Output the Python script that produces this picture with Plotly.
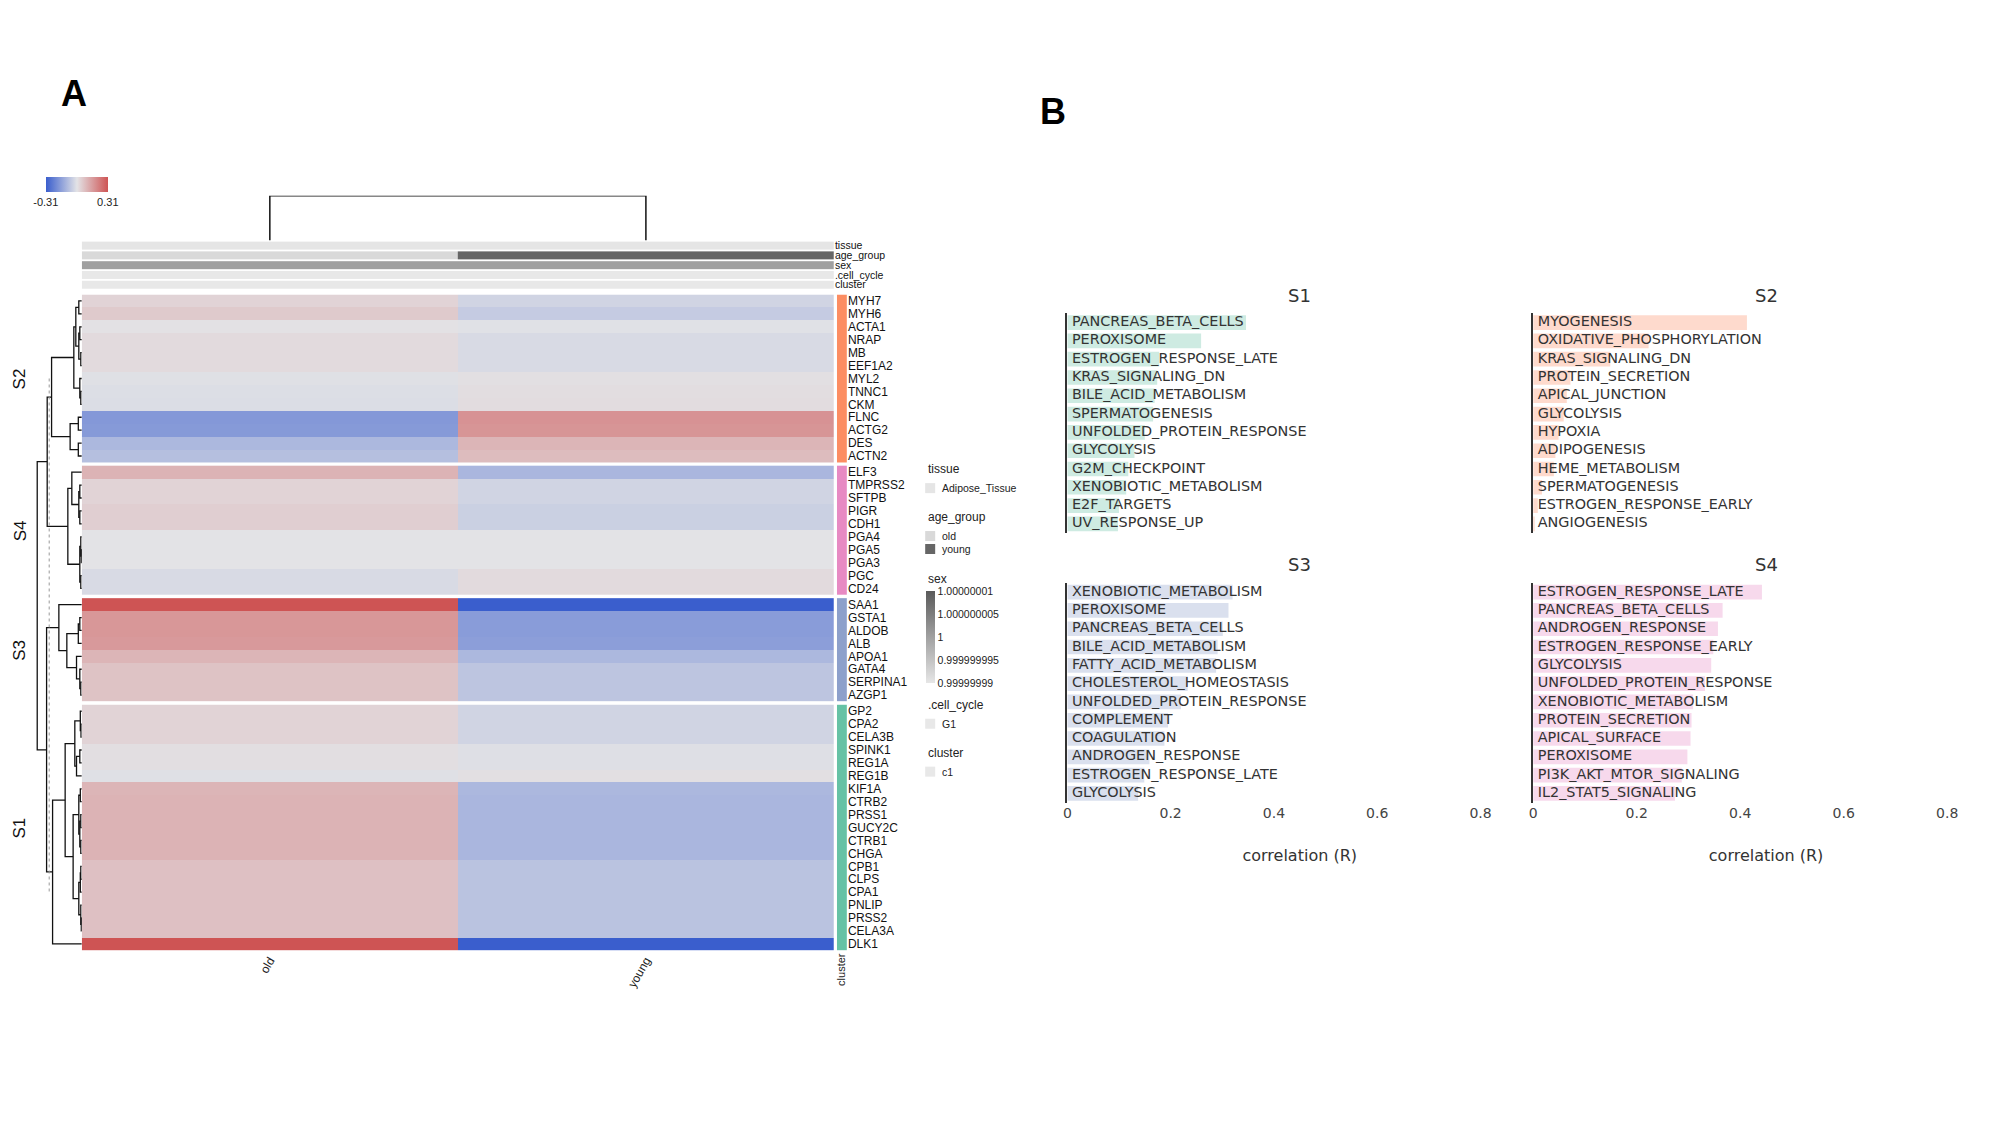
import plotly.graph_objects as go

W, H = 2000, 1125

# ---------------- Panel A data ----------------
columns = ["old", "young"]

s2_genes = ["MYH7", "MYH6", "ACTA1", "NRAP", "MB", "EEF1A2", "MYL2", "TNNC1", "CKM", "FLNC", "ACTG2", "DES", "ACTN2"]
s2_old = [0.035, 0.055, 0.005, 0.02, 0.02, 0.02, -0.008, -0.012, -0.015, -0.175, -0.17, -0.10, -0.085]
s2_young = [-0.035, -0.055, -0.005, -0.02, -0.02, -0.02, 0.008, 0.012, 0.015, 0.175, 0.17, 0.10, 0.085]

s4_genes = ["ELF3", "TMPRSS2", "SFTPB", "PIGR", "CDH1", "PGA4", "PGA5", "PGA3", "PGC", "CD24"]
s4_old = [0.105, 0.035, 0.035, 0.045, 0.045, 0.0, 0.0, 0.0, -0.02, -0.02]
s4_young = [-0.105, -0.035, -0.035, -0.045, -0.045, 0.0, 0.0, 0.0, 0.02, 0.02]

s3_genes = ["SAA1", "GSTA1", "ALDOB", "ALB", "APOA1", "GATA4", "SERPINA1", "AZGP1"]
s3_old = [0.31, 0.165, 0.165, 0.16, 0.10, 0.07, 0.07, 0.07]
s3_young = [-0.31, -0.165, -0.165, -0.16, -0.10, -0.07, -0.07, -0.07]

s1_genes = ["GP2", "CPA2", "CELA3B", "SPINK1", "REG1A", "REG1B", "KIF1A", "CTRB2", "PRSS1", "GUCY2C",
            "CTRB1", "CHGA", "CPB1", "CLPS", "CPA1", "PNLIP", "PRSS2", "CELA3A", "DLK1"]
s1_old = [0.035, 0.035, 0.035, 0.01, 0.01, -0.008, 0.1, 0.105, 0.105, 0.105,
          0.105, 0.105, 0.075, 0.075, 0.075, 0.075, 0.075, 0.075, 0.31]
s1_young = [-0.035, -0.035, -0.035, -0.01, -0.01, 0.008, -0.1, -0.105, -0.105, -0.105,
            -0.105, -0.105, -0.075, -0.075, -0.075, -0.075, -0.075, -0.075, -0.31]

block_names = ["S2", "S4", "S3", "S1"]
block_colors = {"S1": "#66C2A5", "S2": "#FC8D62", "S3": "#8DA0CB", "S4": "#E78AC3"}

# row dendrogram: (left, right, merge height)
row_tree = (
    (
        (
            ((("MYH7", "MYH6", 3), (("ACTA1", "NRAP", 2), ("MB", "EEF1A2", 1), 3), 6),
             ("MYL2", ("TNNC1", "CKM", 1), 2), 8),
            (("FLNC", "ACTG2", 3.5), ("DES", "ACTN2", 3.5), 11.7),
            30.3),
        (
            ("ELF3", (("TMPRSS2", "SFTPB", 2), ("PIGR", "CDH1", 2), 3), 10),
            (("PGA4", ("PGA5", "PGA3", 0.5), 1), ("PGC", "CD24", 1), 2),
            14),
        34.7),
    (
        ("SAA1", ((("GSTA1", "ALDOB", 2), "ALB", 3.5),
                  ("APOA1", ("GATA4", ("SERPINA1", "AZGP1", 1), 2), 5.3), 15), 23),
        (
            (
                (("GP2", ("CPA2", "CELA3B", 0.8), 1.5), (("SPINK1", "REG1A", 2), "REG1B", 5.3), 7),
                ((("KIF1A", "CTRB2", 1.5), (("PRSS1", "GUCY2C", 1), ("CTRB1", "CHGA", 1), 2), 3),
                 ((("CPB1", "CLPS", 1), "CPA1", 1.5), ("PNLIP", ("PRSS2", "CELA3A", 0.5), 1), 3), 8.7),
                16.7),
            "DLK1", 29.3),
        35.3),
    44.7)
cut_height = 32.7
col_tree_height = 1.0

# annotation tracks
ann_rows = ["tissue", "age_group", "sex", ".cell_cycle", "cluster"]
tissue_vals = ["Adipose_Tissue", "Adipose_Tissue"]
age_vals = ["old", "young"]
sex_vals = [1, 1]
cell_cycle_vals = ["G1", "G1"]
cluster_vals = ["c1", "c1"]
tissue_cols = {"Adipose_Tissue": "#E5E5E5"}
age_cols = {"old": "#D9D9D9", "young": "#666666"}
cell_cycle_cols = {"G1": "#E8E8E8"}
cluster_cols = {"c1": "#E8E8E8"}
sex_ticks = [1.00000001, 1.000000005, 1, 0.999999995, 0.99999999]
sex_ticktext = ["1.00000001", "1.000000005", "1", "0.999999995", "0.99999999"]

# ---------------- Panel B data ----------------
s1_pathways = ["PANCREAS_BETA_CELLS", "PEROXISOME", "ESTROGEN_RESPONSE_LATE", "KRAS_SIGNALING_DN",
               "BILE_ACID_METABOLISM", "SPERMATOGENESIS", "UNFOLDED_PROTEIN_RESPONSE", "GLYCOLYSIS",
               "G2M_CHECKPOINT", "XENOBIOTIC_METABOLISM", "E2F_TARGETS", "UV_RESPONSE_UP"]
s1_r = [0.346, 0.259, 0.178, 0.174, 0.169, 0.166, 0.150, 0.130, 0.118, 0.114, 0.100, 0.098]

s2_pathways = ["MYOGENESIS", "OXIDATIVE_PHOSPHORYLATION", "KRAS_SIGNALING_DN", "PROTEIN_SECRETION",
               "APICAL_JUNCTION", "GLYCOLYSIS", "HYPOXIA", "ADIPOGENESIS", "HEME_METABOLISM",
               "SPERMATOGENESIS", "ESTROGEN_RESPONSE_EARLY", "ANGIOGENESIS"]
s2_r = [0.413, 0.223, 0.149, 0.072, 0.065, 0.059, 0.049, 0.043, 0.040, 0.017, 0.009, 0.003]

s3_pathways = ["XENOBIOTIC_METABOLISM", "PEROXISOME", "PANCREAS_BETA_CELLS", "BILE_ACID_METABOLISM",
               "FATTY_ACID_METABOLISM", "CHOLESTEROL_HOMEOSTASIS", "UNFOLDED_PROTEIN_RESPONSE",
               "COMPLEMENT", "COAGULATION", "ANDROGEN_RESPONSE", "ESTROGEN_RESPONSE_LATE", "GLYCOLYSIS"]
s3_r = [0.320, 0.312, 0.301, 0.291, 0.288, 0.233, 0.220, 0.195, 0.188, 0.159, 0.149, 0.137]

s4_pathways = ["ESTROGEN_RESPONSE_LATE", "PANCREAS_BETA_CELLS", "ANDROGEN_RESPONSE",
               "ESTROGEN_RESPONSE_EARLY", "GLYCOLYSIS", "UNFOLDED_PROTEIN_RESPONSE",
               "XENOBIOTIC_METABOLISM", "PROTEIN_SECRETION", "APICAL_SURFACE", "PEROXISOME",
               "PI3K_AKT_MTOR_SIGNALING", "IL2_STAT5_SIGNALING"]
s4_r = [0.442, 0.366, 0.357, 0.348, 0.344, 0.332, 0.309, 0.306, 0.304, 0.298, 0.287, 0.274]

tick_vals = [0, 0.2, 0.4, 0.6, 0.8]


# ---------------- helpers ----------------
def px_x(p):
    return p / W


def px_y(p):
    return 1 - p / H


def rgba(hexc, a):
    h = hexc.lstrip("#")
    return "rgba(%d,%d,%d,%.2f)" % (int(h[0:2], 16), int(h[2:4], 16), int(h[4:6], 16), a)


ARIAL = "Liberation Sans, Arial, sans-serif"
DEJA = "DejaVu Sans, sans-serif"
heat_scale = [[0, "#3A5ECD"], [0.5, "#E3E3E6"], [1, "#CE5454"]]
ZMAX = 0.31

fig = go.Figure()

blocks = [("S2", s2_genes, s2_old, s2_young), ("S4", s4_genes, s4_old, s4_young),
          ("S3", s3_genes, s3_old, s3_young), ("S1", s1_genes, s1_old, s1_young)]
GAP = 0.25
row_pos = {}
all_pos, all_genes, block_centers = [], [], {}
off = 0.0
for bi, (bname, genes, o, yv) in enumerate(blocks):
    pos = [off + i for i in range(len(genes))]
    for g, p in zip(genes, pos):
        row_pos[g] = p
    all_pos += pos
    all_genes += genes
    block_centers[bname] = (pos[0] + pos[-1]) / 2
    fig.add_trace(go.Heatmap(
        x=[0, 1], y=pos, z=[[a, b] for a, b in zip(o, yv)],
        colorscale=heat_scale, zmin=-ZMAX, zmax=ZMAX, xaxis="x", yaxis="y",
        showscale=(bi == 0), hoverinfo="skip",
        colorbar=dict(orientation="h", x=px_x(73), xanchor="center", y=px_y(176), yanchor="top",
                      len=62, lenmode="pixels", thickness=15, thicknessmode="pixels",
                      tickmode="array", tickvals=[-ZMAX, ZMAX], ticktext=["-0.31", "0.31"], ticks="",
                      tickfont=dict(size=11, family=ARIAL, color="#222"),
                      outlinewidth=0, xpad=0, ypad=0)))
    c = block_colors[bname]
    fig.add_trace(go.Heatmap(
        x=[0], y=pos, z=[[1] for _ in genes], colorscale=[[0, c], [1, c]], zmin=0, zmax=1,
        showscale=False, xaxis="x3", yaxis="y", hoverinfo="skip"))
    off += len(genes) + GAP

# row dendrogram
dx, dy = [], []


def walk(node):
    if isinstance(node, str):
        return row_pos[node], 0.0
    a, b, h = node
    ya, ha = walk(a)
    yb, hb = walk(b)
    dx.extend([ha, h, h, hb, None])
    dy.extend([ya, ya, yb, yb, None])
    return (ya + yb) / 2, h


walk(row_tree)
fig.add_trace(go.Scatter(x=dx, y=dy, mode="lines", line=dict(color="#111", width=1.3),
                         xaxis="x2", yaxis="y", hoverinfo="skip", showlegend=False))
fig.add_trace(go.Scatter(x=[cut_height, cut_height], y=[row_pos["MYL2"], row_pos["CPA1"]], mode="lines",
                         line=dict(color="#999", width=1, dash="dot"),
                         xaxis="x2", yaxis="y", hoverinfo="skip", showlegend=False))

# column dendrogram
fig.add_trace(go.Scatter(x=[0, 0, 1, 1], y=[0, col_tree_height, col_tree_height, 0], mode="lines",
                         line=dict(color="#111", width=1.5), xaxis="x", yaxis="y3",
                         hoverinfo="skip", showlegend=False))


# annotation tracks (numeric rows, labelled by tick text)
def cat_track(row, vals, cmap):
    keys = list(dict.fromkeys(vals))
    if len(keys) == 1:
        cs = [[0, cmap[keys[0]]], [1, cmap[keys[0]]]]
        z = [[0 for _ in vals]]
    else:
        cs = [[i / (len(keys) - 1), cmap[k]] for i, k in enumerate(keys)]
        z = [[keys.index(v) for v in vals]]
    fig.add_trace(go.Heatmap(x=[0, 1], y=[ann_rows.index(row)], z=z, colorscale=cs, zmin=0,
                             zmax=max(1, len(keys) - 1), showscale=False, ygap=2,
                             xaxis="x", yaxis="y2", hoverinfo="skip"))


cat_track("tissue", tissue_vals, tissue_cols)
cat_track("age_group", age_vals, age_cols)
fig.add_trace(go.Heatmap(
    x=[0, 1], y=[ann_rows.index("sex")], z=[sex_vals], colorscale=[[0, "#E6E6E6"], [1, "#5A5A5A"]],
    zmin=min(sex_ticks), zmax=max(sex_ticks), ygap=2, xaxis="x", yaxis="y2", hoverinfo="skip",
    showscale=True,
    colorbar=dict(x=px_x(924), xanchor="left", y=px_y(591), yanchor="top", len=92, lenmode="pixels",
                  thickness=9, thicknessmode="pixels", tickmode="array", tickvals=sex_ticks,
                  ticktext=sex_ticktext, ticks="", tickfont=dict(size=10.5, family=ARIAL, color="#222"),
                  outlinewidth=0, xpad=0, ypad=0)))
cat_track(".cell_cycle", cell_cycle_vals, cell_cycle_cols)
cat_track("cluster", cluster_vals, cluster_cols)

# legend keys drawn on a page-sized pixel axis
legend_groups = [("tissue", tissue_cols, 469), ("age_group", age_cols, 517),
                 (".cell_cycle", cell_cycle_cols, 705), ("cluster", cluster_cols, 753)]
LEG_X, ITEM_DY, FIRST_DY = 924, 13, 19
sw_x, sw_y, sw_c = [], [], []
annotations = []
for title, cmap, ty in legend_groups:
    annotations.append(dict(text=title, x=px_x(LEG_X), y=px_y(ty), xref="paper", yref="paper",
                            showarrow=False, xanchor="left", yanchor="middle",
                            font=dict(family=ARIAL, size=12, color="#222")))
    for i, (k, c) in enumerate(cmap.items()):
        iy = ty + FIRST_DY + i * ITEM_DY
        sw_x.append(LEG_X + 4.5)
        sw_y.append(iy)
        sw_c.append(c)
        annotations.append(dict(text=k, x=px_x(LEG_X + 14), y=px_y(iy), xref="paper", yref="paper",
                                showarrow=False, xanchor="left", yanchor="middle",
                                font=dict(family=ARIAL, size=10.5, color="#222")))
fig.add_trace(go.Scatter(x=sw_x, y=sw_y, mode="markers",
                         marker=dict(symbol="square", size=10, color=sw_c, line=dict(width=0)),
                         xaxis="x9", yaxis="y9", hoverinfo="skip", showlegend=False))
annotations.append(dict(text="sex", x=px_x(LEG_X), y=px_y(579), xref="paper", yref="paper",
                        showarrow=False, xanchor="left", yanchor="middle",
                        font=dict(family=ARIAL, size=12, color="#222")))

# ---------------- Panel B ----------------
bar_sets = [("S1", s1_pathways, s1_r, "5"), ("S2", s2_pathways, s2_r, "6"),
            ("S3", s3_pathways, s3_r, "7"), ("S4", s4_pathways, s4_r, "8")]
for name, paths, vals, ax in bar_sets:
    fig.add_trace(go.Bar(x=vals, y=paths, orientation="h", width=0.8,
                         marker=dict(color=rgba(block_colors[name], 0.32), line=dict(width=0)),
                         xaxis="x" + ax, yaxis="y" + ax, hoverinfo="skip", showlegend=False))
    fig.add_trace(go.Scatter(x=[0] * len(paths), y=paths, mode="text", text=paths,
                             texttemplate="\u00a0%{text}", textposition="middle right",
                             textfont=dict(family=DEJA, size=14.4, color="#333"),
                             xaxis="x" + ax, yaxis="y" + ax, hoverinfo="skip", showlegend=False,
                             cliponaxis=False))

# ---------------- layout ----------------
heat_x0, heat_x1 = 78, 832
body_top, body_bot = 294, 951
layout = dict(
    width=W, height=H, margin=dict(l=0, r=0, t=0, b=0),
    paper_bgcolor="white", plot_bgcolor="rgba(0,0,0,0)",
    font=dict(family=ARIAL, color="#222"),
    showlegend=False,
    bargap=0.2,
    xaxis=dict(domain=[px_x(heat_x0), px_x(heat_x1)], range=[-0.5, 1.5], anchor="y",
               tickmode="array", tickvals=[0, 1], ticktext=columns, tickangle=-60, ticks="",
               tickfont=dict(size=12, family=ARIAL, color="#222"),
               showgrid=False, zeroline=False, showline=False),
    yaxis=dict(domain=[px_y(body_bot), px_y(body_top)], range=[all_pos[-1] + 0.5, -0.5],
               anchor="x3", side="right", tickmode="array", tickvals=all_pos, ticktext=all_genes, ticks="",
               tickfont=dict(size=12, family=ARIAL, color="#111"),
               showgrid=False, zeroline=False, showline=False),
    xaxis2=dict(domain=[0, px_x(heat_x0)], range=[heat_x0, 0], anchor="y", visible=False),
    xaxis3=dict(domain=[px_x(835), px_x(845)], range=[-0.5, 0.5], anchor="y",
                tickmode="array", tickvals=[0], ticktext=["cluster"], tickangle=-90, ticks="",
                tickfont=dict(size=11, family=ARIAL, color="#222"),
                showgrid=False, zeroline=False, showline=False),
    yaxis2=dict(domain=[px_y(289), px_y(240)], range=[len(ann_rows) - 0.5, -0.5], anchor="x", side="right",
                tickmode="array", tickvals=list(range(len(ann_rows))), ticktext=ann_rows,
                ticks="", tickfont=dict(size=10.5, family=ARIAL, color="#111"),
                showgrid=False, zeroline=False, showline=False),
    yaxis3=dict(domain=[px_y(240), px_y(195)], range=[0, col_tree_height], anchor="x", visible=False),
    xaxis9=dict(domain=[0, 1], range=[0, W], anchor="y9", visible=False),
    yaxis9=dict(domain=[0, 1], range=[H, 0], anchor="x9", visible=False),
)

bar_dom_x = {"5": [1066, 1532], "6": [1533, 2000], "7": [1066, 1532], "8": [1533, 2000]}
bar_dom_y = {"5": [313, 533], "6": [313, 533], "7": [583, 803], "8": [583, 803]}
for name, paths, vals, ax in bar_sets:
    bottom = ax in ("7", "8")
    xd = bar_dom_x[ax]
    yd = bar_dom_y[ax]
    xa = dict(
        domain=[px_x(xd[0]), px_x(xd[1])], range=[0, 0.9], anchor="y" + ax,
        tickmode="array", tickvals=tick_vals, ticktext=["0", "0.2", "0.4", "0.6", "0.8"], ticks="",
        showticklabels=bottom, tickfont=dict(family=DEJA, size=14, color="#444"),
        showgrid=False, zeroline=False, showline=False)
    if bottom:
        xa["title"] = dict(text="correlation (R)", standoff=30, font=dict(family=DEJA, size=16, color="#333"))
    layout["xaxis" + ax] = xa
    layout["yaxis" + ax] = dict(
        domain=[px_y(yd[1]), px_y(yd[0])], type="category", categoryorder="array",
        categoryarray=paths, range=[len(paths) - 0.5, -0.5], anchor="x" + ax,
        showticklabels=False, ticks="", showgrid=False, zeroline=False,
        showline=True, linecolor="#333", linewidth=1.5)
    annotations.append(dict(text=name, x=px_x((xd[0] + xd[1]) / 2), y=px_y(yd[0] - 18),
                            xref="paper", yref="paper", showarrow=False, xanchor="center",
                            yanchor="middle", font=dict(family=DEJA, size=18, color="#333")))

for bname in block_names:
    annotations.append(dict(text=bname, x=px_x(16), y=block_centers[bname], xref="paper", yref="y",
                            showarrow=False, textangle=-90, xanchor="center", yanchor="middle",
                            font=dict(family=ARIAL, size=17, color="#111")))

annotations += [
    dict(text="<b>A</b>", x=px_x(70), y=px_y(93), xref="paper", yref="paper", showarrow=False,
         xanchor="center", yanchor="middle", font=dict(family=ARIAL, size=36, color="#000")),
    dict(text="<b>B</b>", x=px_x(1052), y=px_y(111), xref="paper", yref="paper", showarrow=False,
         xanchor="center", yanchor="middle", font=dict(family=ARIAL, size=36, color="#000")),
]
layout["annotations"] = annotations

fig.update_layout(**layout)
fig.write_html("out.html", config={"displayModeBar": False},
               post_script="document.body.style.margin='0px';")
